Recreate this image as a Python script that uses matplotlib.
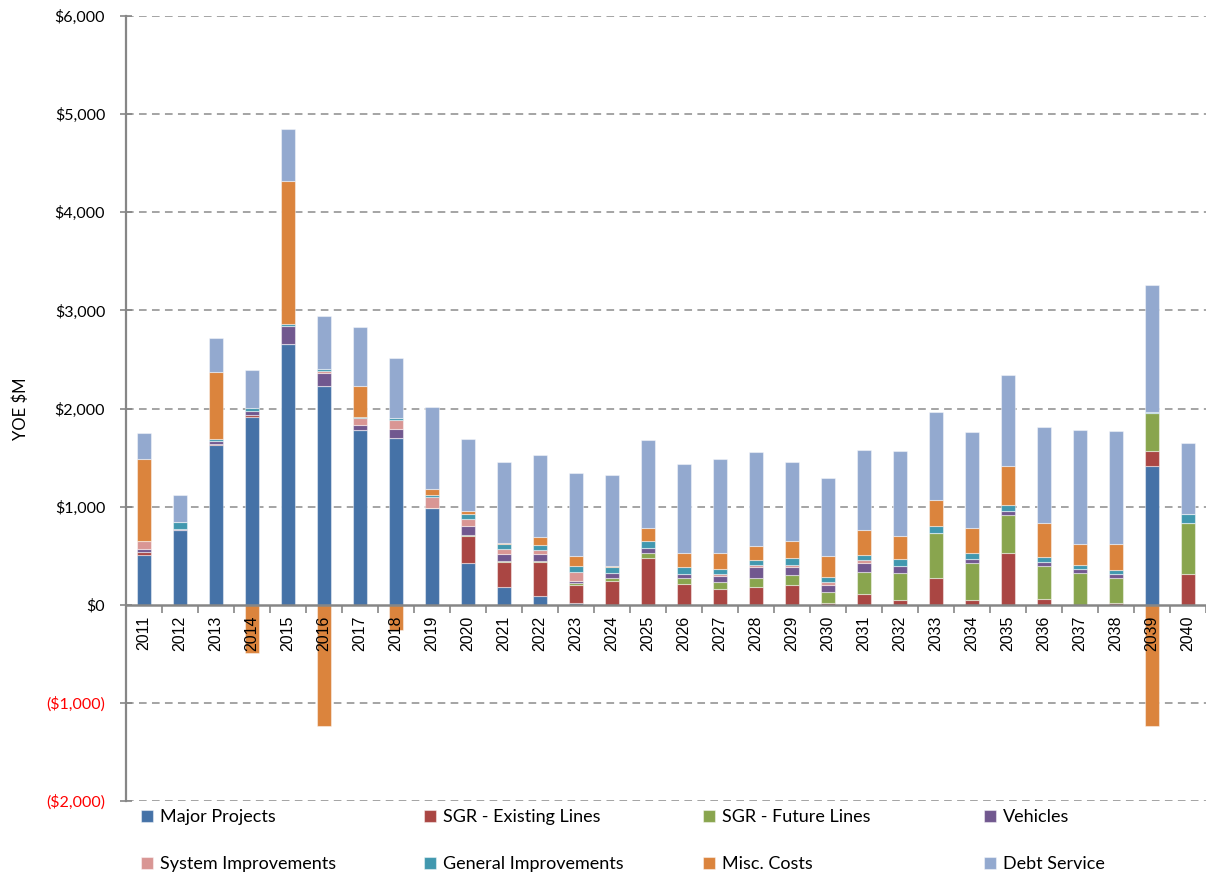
import numpy as np
import matplotlib
matplotlib.use("Agg")
import matplotlib.pyplot as plt
from matplotlib.ticker import FuncFormatter, MultipleLocator

# Data (YOE $M)
years = list(range(2011, 2041))

major = [502, 757, 1626, 1918, 2660, 2232, 1777, 1696, 991, 422, 185, 90, 22, 0, 0,
         0, 0, 0, 0, 0, 0, 0, 0, 0, 0, 0, 0, 0, 1409, 0]
sgr_existing = [40, 0, 17, 14, 0, 0, 0, 0, 0, 275, 251, 343, 180, 243, 477,
                212, 161, 185, 202, 22, 114, 51, 272, 51, 531, 54, 0, 22, 153, 310]
sgr_future = [0, 0, 0, 0, 0, 0, 0, 0, 0, 17, 10, 17, 17, 27, 47,
              58, 68, 88, 105, 105, 224, 276, 459, 372, 380, 341, 327, 248, 391, 526]
vehicles = [27, 14, 24, 47, 185, 125, 54, 98, 0, 85, 71, 67, 20, 58, 54,
            41, 61, 112, 78, 75, 85, 72, 0, 47, 44, 38, 38, 41, 0, 0]
system_impr = [82, 0, 0, 0, 0, 23, 68, 85, 104, 71, 48, 38, 99, 0, 0,
               0, 21, 17, 24, 27, 30, 0, 0, 0, 0, 0, 0, 0, 0, 0]
general_impr = [0, 77, 27, 27, 20, 20, 12, 20, 23, 51, 51, 51, 57, 61, 72,
                74, 58, 51, 71, 58, 54, 71, 68, 61, 61, 57, 44, 43, 10, 85]
misc_costs = [835, 0, 679, -490, 1458, -1240, 320, -262, 58, 34, 13, 84, 99, 10, 136,
              143, 159, 150, 170, 207, 252, 230, 268, 255, 394, 342, 207, 262, -1235, 0]
debt_service = [262, 275, 348, 382, 529, 541, 602, 614, 835, 737, 828, 832, 848, 927, 892,
                906, 957, 953, 807, 794, 817, 866, 898, 976, 932, 977, 1166, 1153, 1293, 725]

series = [
    ("Major Projects", major, "#4572A7"),
    ("SGR - Existing Lines", sgr_existing, "#AA4643"),
    ("SGR - Future Lines", sgr_future, "#89A54E"),
    ("Vehicles", vehicles, "#71588F"),
    ("System Improvements", system_impr, "#D99694"),
    ("General Improvements", general_impr, "#4198AF"),
    ("Misc. Costs", misc_costs, "#DB843D"),
    ("Debt Service", debt_service, "#93A9CF"),
]

fig = plt.figure(figsize=(12.06, 8.73), dpi=100)
ax = fig.add_axes([126 / 1206, 72 / 873, 1 - 126 / 1206, (801 - 16) / 873])
ax.set_axisbelow(False)  # year labels sit on top of the negative bars

x = np.arange(len(years))
pos_bottom = np.zeros(len(years))
neg_bottom = np.zeros(len(years))
handles = []
for name, vals, color in series:
    v = np.array(vals, dtype=float)
    bottom = np.where(v >= 0, pos_bottom, neg_bottom)
    b = ax.bar(x, v, width=0.41, bottom=bottom, color=color,
               edgecolor=(1, 1, 1, 0.45), linewidth=0.8, zorder=2, label=name)
    handles.append(b)
    pos_bottom += np.where(v > 0, v, 0)
    neg_bottom += np.where(v < 0, v, 0)

ax.set_xlim(-0.5, len(years) - 0.5)
ax.set_ylim(-2000, 6000)

# grid
ax.yaxis.set_major_locator(MultipleLocator(1000))
for yv in range(-2000, 6001, 1000):
    if yv == 0:
        continue
    ax.axhline(yv, color="#8c8c8c", linestyle=(0, (5, 3.5)), linewidth=1.1, zorder=0)

for s in ["top", "right"]:
    ax.spines[s].set_visible(False)
ax.spines["left"].set_color("#868686")
ax.spines["left"].set_linewidth(1.6)
ax.spines["bottom"].set_position(("data", 0))
ax.spines["bottom"].set_color("#868686")
ax.spines["bottom"].set_linewidth(1.8)
ax.spines["bottom"].set_zorder(3)

# y axis labels
def money(v, pos):
    if v < 0:
        return "(${:,.0f})".format(-v)
    return "${:,.0f}".format(v)

ax.yaxis.set_major_formatter(FuncFormatter(money))
ax.tick_params(axis="y", direction="inout", length=8, width=1.2, color="#868686",
               labelsize=11.5, pad=11)
for lab in ax.get_yticklabels():
    lab.set_family("Lato")
fig.canvas.draw()
for lab, val in zip(ax.get_yticklabels(), ax.get_yticks()):
    if val < 0:
        lab.set_color("#FF0000")

ax.set_ylabel("YOE $M", fontsize=12, family="Lato", labelpad=12)

# x axis: years below the zero line, ticks between categories
ax.set_xticks(x)
ax.set_xticklabels([str(y) for y in years], rotation=90, fontsize=11.5,
                   family="Liberation Sans")
ax.tick_params(axis="x", which="major", length=0, pad=8)
ax.set_xticks(np.arange(-0.5, len(years), 1.0), minor=True)
ax.tick_params(axis="x", which="minor", length=6, width=1.2, color="#868686",
               direction="out")

# legend: four columns, two rows
cols_x = [141, 424, 703, 984]
for c in range(4):
    hs = [handles[c], handles[c + 4]]
    ls = [series[c][0], series[c + 4][0]]
    fig.legend(hs, ls, loc="upper left",
               bbox_to_anchor=(cols_x[c] / 1206, 1 - 809 / 873),
               frameon=False, ncol=1, borderpad=0, borderaxespad=0,
               handlelength=0.65, handleheight=0.65, handletextpad=0.4,
               labelspacing=1.72, prop={"family": "Lato", "size": 13})

fig.savefig("out.png", dpi=100)
